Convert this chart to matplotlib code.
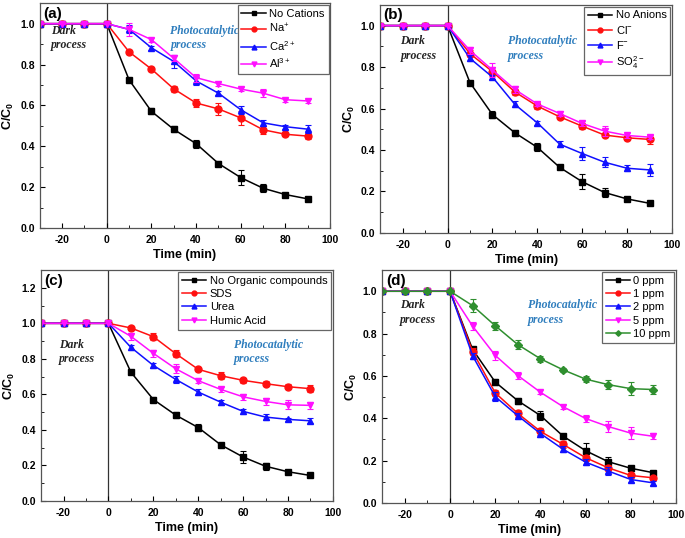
import numpy as np
import matplotlib
matplotlib.use('Agg')
import matplotlib.pyplot as plt
from matplotlib.ticker import MultipleLocator

plt.rcParams['font.family'] = ['Liberation Sans', 'DejaVu Sans']
plt.rcParams['mathtext.fontset'] = 'custom'
plt.rcParams['mathtext.rm'] = 'Liberation Sans'
plt.rcParams['mathtext.bf'] = 'Liberation Sans:bold'
plt.rcParams['axes.unicode_minus'] = False

# time points (min)
time = [-30, -20, -10, 0, 10, 20, 30, 40, 50, 60, 70, 80, 90]
dark = [1.0, 1.0, 1.0, 1.0]

# reference curve (no additive), same in every panel
ref = [0.725, 0.571, 0.483, 0.413, 0.316, 0.247, 0.195, 0.164, 0.143]
ref_err = [0.01, 0.015, 0.015, 0.02, 0.01, 0.035, 0.02, 0.01, 0.01]

# (a) cations
na = [0.862, 0.778, 0.681, 0.612, 0.583, 0.539, 0.481, 0.459, 0.450]
na_err = [0.01, 0.01, 0.015, 0.02, 0.03, 0.035, 0.02, 0.01, 0.015]
ca = [0.972, 0.882, 0.815, 0.720, 0.660, 0.579, 0.515, 0.496, 0.484]
ca_err = [0.02, 0.01, 0.03, 0.02, 0.01, 0.02, 0.015, 0.01, 0.02]
al = [0.972, 0.922, 0.830, 0.736, 0.707, 0.680, 0.660, 0.628, 0.622]
al_err = [0.03, 0.01, 0.015, 0.02, 0.01, 0.01, 0.02, 0.01, 0.01]

# (b) anions
cl = [0.865, 0.778, 0.680, 0.612, 0.560, 0.515, 0.472, 0.459, 0.451]
cl_err = [0.015, 0.02, 0.015, 0.015, 0.01, 0.015, 0.01, 0.01, 0.02]
f_ion = [0.842, 0.752, 0.620, 0.531, 0.428, 0.383, 0.341, 0.312, 0.304]
f_err = [0.015, 0.01, 0.015, 0.01, 0.015, 0.03, 0.025, 0.015, 0.03]
so4 = [0.880, 0.786, 0.692, 0.622, 0.576, 0.528, 0.491, 0.470, 0.462]
so4_err = [0.015, 0.035, 0.015, 0.01, 0.01, 0.01, 0.025, 0.01, 0.01]

# (c) organic compounds
sds = [0.974, 0.925, 0.829, 0.741, 0.705, 0.679, 0.660, 0.643, 0.632]
sds_err = [0.01, 0.02, 0.02, 0.01, 0.02, 0.015, 0.015, 0.015, 0.02]
urea = [0.865, 0.763, 0.684, 0.613, 0.556, 0.504, 0.472, 0.459, 0.451]
urea_err = [0.015, 0.015, 0.02, 0.015, 0.015, 0.015, 0.015, 0.01, 0.015]
humic = [0.927, 0.831, 0.744, 0.677, 0.628, 0.586, 0.560, 0.541, 0.538]
humic_err = [0.02, 0.02, 0.025, 0.015, 0.015, 0.015, 0.02, 0.025, 0.02]

# (d) concentration
ppm1 = [0.715, 0.520, 0.423, 0.338, 0.277, 0.214, 0.166, 0.130, 0.119]
ppm1_err = [0.015, 0.015, 0.015, 0.015, 0.015, 0.015, 0.015, 0.01, 0.01]
ppm2 = [0.695, 0.502, 0.412, 0.328, 0.254, 0.193, 0.151, 0.111, 0.095]
ppm2_err = [0.015, 0.02, 0.015, 0.015, 0.015, 0.015, 0.02, 0.01, 0.01]
ppm5 = [0.835, 0.697, 0.602, 0.523, 0.455, 0.399, 0.361, 0.330, 0.315]
ppm5_err = [0.02, 0.02, 0.015, 0.01, 0.01, 0.015, 0.025, 0.03, 0.015]
ppm10 = [0.932, 0.837, 0.748, 0.681, 0.629, 0.585, 0.559, 0.540, 0.536]
ppm10_err = [0.03, 0.02, 0.02, 0.015, 0.01, 0.015, 0.02, 0.03, 0.02]

BLACK, RED, BLUE, MAG, GREEN = 'black', '#ff1010', '#1010ff', '#ff10ff', '#2f8f2f'
PHOTO_BLUE = '#2e7dbd'

panels = [
    dict(label='(a)', pos=[0.058, 0.576, 0.424, 0.418], ylim=1.1,
         series=[('No Cations', ref, ref_err, BLACK, 's'),
                 ('Na$^{+}$', na, na_err, RED, 'o'),
                 ('Ca$^{2+}$', ca, ca_err, BLUE, '^'),
                 ('Al$^{3+}$', al, al_err, MAG, 'v')],
         dark_xy=(-25, 0.93), photo_xy=(28.5, 0.93)),
    dict(label='(b)', pos=[0.555, 0.567, 0.426, 0.424], ylim=1.1,
         series=[('No Anions', ref, ref_err, BLACK, 's'),
                 ('Cl$^{-}$', cl, cl_err, RED, 'o'),
                 ('F$^{-}$', f_ion, f_err, BLUE, '^'),
                 ('SO$_4^{2-}$', so4, so4_err, MAG, 'v')],
         dark_xy=(-21, 0.89), photo_xy=(27, 0.89)),
    dict(label='(c)', pos=[0.060, 0.069, 0.426, 0.429], ylim=1.3,
         series=[('No Organic compounds', ref, ref_err, BLACK, 's'),
                 ('SDS', sds, sds_err, RED, 'o'),
                 ('Urea', urea, urea_err, BLUE, '^'),
                 ('Humic Acid', humic, humic_err, MAG, 'v')],
         dark_xy=(-22, 0.84), photo_xy=(56, 0.84)),
    dict(label='(d)', pos=[0.558, 0.065, 0.429, 0.433], ylim=1.1,
         series=[('0 ppm', ref, ref_err, BLACK, 's'),
                 ('1 ppm', ppm1, ppm1_err, RED, 'o'),
                 ('2 ppm', ppm2, ppm2_err, BLUE, '^'),
                 ('5 ppm', ppm5, ppm5_err, MAG, 'v'),
                 ('10 ppm', ppm10, ppm10_err, GREEN, 'D')],
         dark_xy=(-22, 0.90), photo_xy=(34.5, 0.90)),
]

fig = plt.figure(figsize=(6.85, 5.38), dpi=100)

for p in panels:
    ax = fig.add_axes(p['pos'])
    for name, vals, errs, color, mk in p['series']:
        y = dark + vals
        e = [0, 0, 0, 0] + errs
        ms = 4 if mk == 'D' else 5
        ax.errorbar(time, y, yerr=e, fmt='none', ecolor=color,
                    elinewidth=0.8, capsize=2, capthick=0.8)
        ax.plot(time, y, color=color, marker=mk, ms=ms, lw=1.1, label=name)
    ax.axvline(0, color='#333333', lw=0.9, zorder=0)
    ax.set_xlim(-30, 100)
    ax.set_ylim(0, p['ylim'])
    ax.xaxis.set_minor_locator(MultipleLocator(10))
    ax.yaxis.set_minor_locator(MultipleLocator(0.1))
    ax.tick_params(which='both', direction='in', labelsize=7.5)
    ax.tick_params(which='major', length=3.5)
    ax.tick_params(which='minor', length=2)
    ax.tick_params(axis='x', pad=5)
    yt = np.arange(0, p['ylim'] + 0.001, 0.2)
    ax.set_yticks(yt)
    ax.set_yticklabels(['%.1f' % v for v in yt])
    ax.set_xticks([-20, 0, 20, 40, 60, 80, 100])
    for lab in ax.get_xticklabels() + ax.get_yticklabels():
        lab.set_fontweight('bold')
    for sp in ax.spines.values():
        sp.set_color('#555555')
        sp.set_linewidth(0.9)
    ax.set_xlabel('Time (min)', fontsize=9, fontweight='bold', labelpad=3)
    ax.set_ylabel('C/C$_\\mathbf{0}$', fontsize=9, fontweight='bold', labelpad=3)
    ax.text(0.012, 0.985, p['label'], transform=ax.transAxes, fontsize=11,
            fontweight='bold', va='top', ha='left')
    ax.text(p['dark_xy'][0], p['dark_xy'][1], 'Dark\nprocess', family='Liberation Serif',
            style='italic', fontweight='bold', fontsize=8.5, color='#222222',
            va='center', ha='left', linespacing=1.25)
    ax.text(p['photo_xy'][0], p['photo_xy'][1], 'Photocatalytic\nprocess', family='Liberation Serif',
            style='italic', fontweight='bold', fontsize=8.5, color=PHOTO_BLUE,
            va='center', ha='left', linespacing=1.25)
    leg = ax.legend(loc='upper right', fontsize=8, frameon=True, fancybox=False,
                    edgecolor='#666666', framealpha=1, borderaxespad=0.15, handlelength=2.2,
                    handletextpad=0.3, borderpad=0.35, labelspacing=0.3, markerscale=0.7)
    leg.get_frame().set_linewidth(0.9)

fig.savefig('out.png', dpi=100)
